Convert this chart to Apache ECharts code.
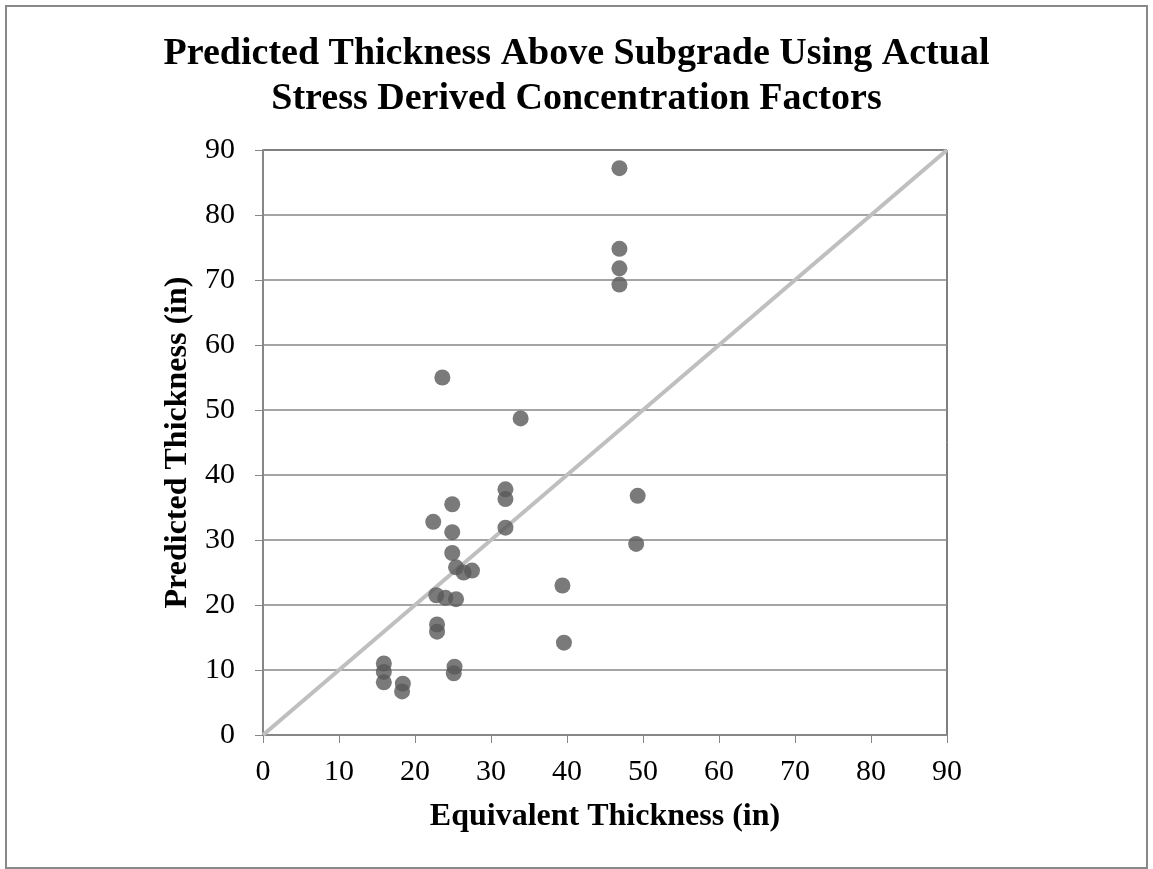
<!DOCTYPE html>
<html>
<head>
<meta charset="utf-8">
<script src="https://cdn.jsdelivr.net/npm/echarts@6/dist/echarts.min.js"></script>
<style>
html,body{margin:0;padding:0;background:#fff;}
#c{width:1153px;height:869px;}
</style>
</head>
<body>
<div id="c"></div>
<script>
// Data
var equivalentThickness = [46.9, 46.9, 46.9, 46.9, 23.6, 33.9, 49.3, 49.1, 31.9, 31.9, 31.9, 24.9, 22.4, 24.9, 24.9, 25.4, 26.4, 27.5, 22.8, 24.0, 25.4, 22.9, 22.9, 39.4, 39.6, 15.9, 15.9, 15.9, 18.4, 18.3, 25.2, 25.1];
var predictedThickness  = [87.2, 74.8, 71.8, 69.3, 55.0, 48.7, 36.8, 29.4, 37.8, 36.3, 31.9, 35.5, 32.8, 31.2, 28.0, 25.8, 25.0, 25.3, 21.5, 21.1, 20.9, 17.0, 15.9, 23.0, 14.2, 11.0, 9.7, 8.1, 7.9, 6.7, 10.5, 9.5];
var equalityLineX = [0, 90];
var equalityLineY = [0, 90];
var axisMin = 0, axisMax = 90, axisStep = 10;

var scatterData = equivalentThickness.map(function (x, i) { return [x, predictedThickness[i]]; });
var lineData = equalityLineX.map(function (x, i) { return [x, equalityLineY[i]]; });

var serif = '"Liberation Serif", "Times New Roman", serif';
var chart = echarts.init(document.getElementById('c'));
chart.setOption({
  animation: false,
  backgroundColor: '#ffffff',
  title: {
    text: 'Predicted Thickness Above Subgrade Using Actual\nStress Derived Concentration Factors',
    left: 'center',
    top: 27,
    textStyle: { fontFamily: serif, fontWeight: 'bold', fontSize: 38, lineHeight: 45, color: '#000' }
  },
  graphic: [{
    type: 'rect',
    shape: { x: 6, y: 6, width: 1141, height: 862 },
    style: { fill: 'none', stroke: '#898989', lineWidth: 2 },
    silent: true
  }],
  grid: {
    left: 263, right: 206, top: 150, bottom: 134,
    show: true, borderColor: '#000', borderWidth: 1, backgroundColor: 'transparent'
  },
  xAxis: {
    type: 'value', min: axisMin, max: axisMax, interval: axisStep,
    name: 'Equivalent Thickness (in)', nameLocation: 'middle', nameGap: 66,
    nameTextStyle: { fontFamily: serif, fontWeight: 'bold', fontSize: 32, color: '#000' },
    axisLine: { show: true, onZero: false, lineStyle: { color: '#878787', width: 2 } },
    axisTick: { show: true, length: 8, lineStyle: { color: '#878787', width: 1 } },
    axisLabel: { fontFamily: serif, fontSize: 30, color: '#000', margin: 22 },
    splitLine: { show: false }
  },
  yAxis: {
    type: 'value', min: axisMin, max: axisMax, interval: axisStep,
    name: 'Predicted Thickness (in)', nameLocation: 'middle', nameGap: 66,
    nameTextStyle: { fontFamily: serif, fontWeight: 'bold', fontSize: 32, color: '#000' },
    axisLine: { show: true, onZero: false, lineStyle: { color: '#878787', width: 2 } },
    axisTick: { show: true, length: 8, lineStyle: { color: '#878787', width: 1 } },
    axisLabel: { fontFamily: serif, fontSize: 30, color: '#000', margin: 28 },
    splitLine: { show: true, showMinLine: false, showMaxLine: false, lineStyle: { color: '#878787', width: 1.5 } }
  },
  series: [{
    type: 'line',
    data: lineData,
    symbol: 'none',
    lineStyle: { color: '#bfbfbf', width: 4 },
    z: 2
  }, {
    type: 'scatter',
    data: scatterData,
    symbol: 'circle',
    symbolSize: 16,
    itemStyle: { color: '#595959' },
    z: 3
  }]
});
</script>
</body>
</html>
